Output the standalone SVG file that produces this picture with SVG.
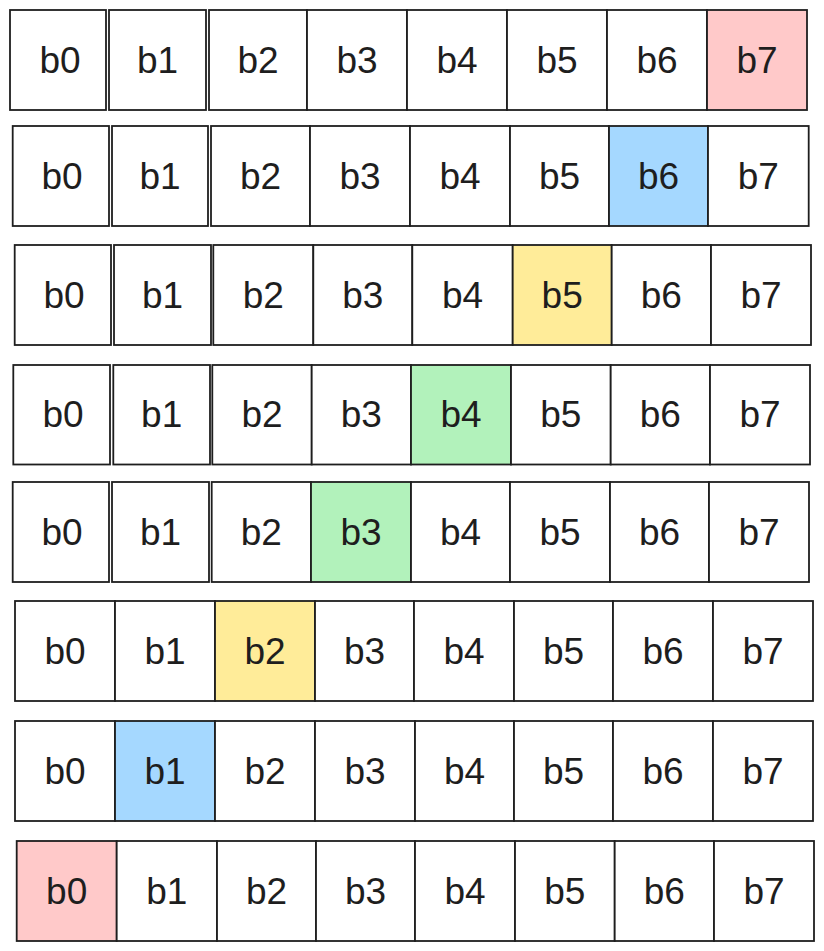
<svg xmlns="http://www.w3.org/2000/svg" width="824" height="951" viewBox="0 0 824 951">
<style>
.b{fill:#ffffff;stroke:#1e1e1e;stroke-width:1.8}
.pk{fill:#ffc9c9}.bl{fill:#a5d8ff}.yl{fill:#ffec99}.gr{fill:#b2f2bb}
text{font-family:"Liberation Sans",Arial,sans-serif;font-size:37px;fill:#1e1e1e;text-anchor:middle}
</style>
<rect width="824" height="951" fill="#ffffff"/>
<g id="row1">
<g id="r1b0"><rect class="b" x="10" y="10" width="96" height="100"/><text x="60" y="72.5">b0</text></g>
<g id="r1b1"><rect class="b" x="109" y="10" width="97" height="100"/><text x="157.5" y="72.5">b1</text></g>
<g id="r1b2"><rect class="b" x="209" y="10" width="98" height="100"/><text x="258" y="72.5">b2</text></g>
<g id="r1b3"><rect class="b" x="307" y="10" width="100" height="100"/><text x="357" y="72.5">b3</text></g>
<g id="r1b4"><rect class="b" x="407" y="10" width="100" height="100"/><text x="457" y="72.5">b4</text></g>
<g id="r1b5"><rect class="b" x="507" y="10" width="100" height="100"/><text x="557" y="72.5">b5</text></g>
<g id="r1b6"><rect class="b" x="607" y="10" width="100" height="100"/><text x="657" y="72.5">b6</text></g>
<g id="r1b7"><rect class="b pk" x="707" y="10" width="100" height="100"/><text x="757" y="72.5">b7</text></g>
</g>
<g id="row2">
<g id="r2b0"><rect class="b" x="12.7" y="126" width="96.3" height="100"/><text x="62" y="188.5">b0</text></g>
<g id="r2b1"><rect class="b" x="112" y="126" width="96" height="100"/><text x="160" y="188.5">b1</text></g>
<g id="r2b2"><rect class="b" x="211" y="126" width="99" height="100"/><text x="260.5" y="188.5">b2</text></g>
<g id="r2b3"><rect class="b" x="310" y="126" width="100" height="100"/><text x="360" y="188.5">b3</text></g>
<g id="r2b4"><rect class="b" x="410" y="126" width="100" height="100"/><text x="460" y="188.5">b4</text></g>
<g id="r2b5"><rect class="b" x="510" y="126" width="99" height="100"/><text x="559.5" y="188.5">b5</text></g>
<g id="r2b6"><rect class="b bl" x="609" y="126" width="99" height="100"/><text x="658.5" y="188.5">b6</text></g>
<g id="r2b7"><rect class="b" x="708" y="126" width="100.7" height="100"/><text x="758.3" y="188.5">b7</text></g>
</g>
<g id="row3">
<g id="r3b0"><rect class="b" x="14.7" y="245" width="96.3" height="100"/><text x="64" y="307.5">b0</text></g>
<g id="r3b1"><rect class="b" x="114" y="245" width="97" height="100"/><text x="162.5" y="307.5">b1</text></g>
<g id="r3b2"><rect class="b" x="213.3" y="245" width="100" height="100"/><text x="263.3" y="307.5">b2</text></g>
<g id="r3b3"><rect class="b" x="313.3" y="245" width="99" height="100"/><text x="362.8" y="307.5">b3</text></g>
<g id="r3b4"><rect class="b" x="412.3" y="245" width="100.4" height="100"/><text x="462.5" y="307.5">b4</text></g>
<g id="r3b5"><rect class="b yl" x="512.7" y="245" width="99" height="100"/><text x="562.2" y="307.5">b5</text></g>
<g id="r3b6"><rect class="b" x="611.7" y="245" width="99.3" height="100"/><text x="661.3" y="307.5">b6</text></g>
<g id="r3b7"><rect class="b" x="711" y="245" width="100" height="100"/><text x="761" y="307.5">b7</text></g>
</g>
<g id="row4">
<g id="r4b0"><rect class="b" x="13.3" y="365" width="96.7" height="99.5"/><text x="63" y="427">b0</text></g>
<g id="r4b1"><rect class="b" x="113.3" y="365" width="96.7" height="99.5"/><text x="161.7" y="427">b1</text></g>
<g id="r4b2"><rect class="b" x="212.3" y="365" width="99.4" height="99.5"/><text x="262" y="427">b2</text></g>
<g id="r4b3"><rect class="b" x="311.7" y="365" width="99.3" height="99.5"/><text x="361.3" y="427">b3</text></g>
<g id="r4b4"><rect class="b gr" x="411" y="365" width="100" height="99.5"/><text x="461" y="427">b4</text></g>
<g id="r4b5"><rect class="b" x="511" y="365" width="99.7" height="99.5"/><text x="560.8" y="427">b5</text></g>
<g id="r4b6"><rect class="b" x="610.7" y="365" width="99.3" height="99.5"/><text x="660.3" y="427">b6</text></g>
<g id="r4b7"><rect class="b" x="710" y="365" width="100" height="99.5"/><text x="760" y="427">b7</text></g>
</g>
<g id="row5">
<g id="r5b0"><rect class="b" x="12.7" y="482" width="96.3" height="100"/><text x="62" y="544.5">b0</text></g>
<g id="r5b1"><rect class="b" x="112" y="482" width="97" height="100"/><text x="160.5" y="544.5">b1</text></g>
<g id="r5b2"><rect class="b" x="211.7" y="482" width="99.3" height="100"/><text x="261.3" y="544.5">b2</text></g>
<g id="r5b3"><rect class="b gr" x="311" y="482" width="100" height="100"/><text x="361" y="544.5">b3</text></g>
<g id="r5b4"><rect class="b" x="411" y="482" width="99" height="100"/><text x="460.5" y="544.5">b4</text></g>
<g id="r5b5"><rect class="b" x="510" y="482" width="100" height="100"/><text x="560" y="544.5">b5</text></g>
<g id="r5b6"><rect class="b" x="610" y="482" width="99" height="100"/><text x="659.5" y="544.5">b6</text></g>
<g id="r5b7"><rect class="b" x="709" y="482" width="100" height="100"/><text x="759" y="544.5">b7</text></g>
</g>
<g id="row6">
<g id="r6b0"><rect class="b" x="15" y="601" width="100" height="100"/><text x="65" y="663.5">b0</text></g>
<g id="r6b1"><rect class="b" x="115" y="601" width="100" height="100"/><text x="165" y="663.5">b1</text></g>
<g id="r6b2"><rect class="b yl" x="215" y="601" width="100" height="100"/><text x="265" y="663.5">b2</text></g>
<g id="r6b3"><rect class="b" x="315" y="601" width="99" height="100"/><text x="364.5" y="663.5">b3</text></g>
<g id="r6b4"><rect class="b" x="414" y="601" width="100" height="100"/><text x="464" y="663.5">b4</text></g>
<g id="r6b5"><rect class="b" x="514" y="601" width="99" height="100"/><text x="563.5" y="663.5">b5</text></g>
<g id="r6b6"><rect class="b" x="613" y="601" width="100" height="100"/><text x="663" y="663.5">b6</text></g>
<g id="r6b7"><rect class="b" x="713" y="601" width="100" height="100"/><text x="763" y="663.5">b7</text></g>
</g>
<g id="row7">
<g id="r7b0"><rect class="b" x="15" y="721" width="100" height="100"/><text x="65" y="783.5">b0</text></g>
<g id="r7b1"><rect class="b bl" x="115" y="721" width="100" height="100"/><text x="165" y="783.5">b1</text></g>
<g id="r7b2"><rect class="b" x="215" y="721" width="100" height="100"/><text x="265" y="783.5">b2</text></g>
<g id="r7b3"><rect class="b" x="315" y="721" width="100" height="100"/><text x="365" y="783.5">b3</text></g>
<g id="r7b4"><rect class="b" x="415" y="721" width="99" height="100"/><text x="464.5" y="783.5">b4</text></g>
<g id="r7b5"><rect class="b" x="514" y="721" width="99" height="100"/><text x="563.5" y="783.5">b5</text></g>
<g id="r7b6"><rect class="b" x="613" y="721" width="100" height="100"/><text x="663" y="783.5">b6</text></g>
<g id="r7b7"><rect class="b" x="713" y="721" width="100" height="100"/><text x="763" y="783.5">b7</text></g>
</g>
<g id="row8">
<g id="r8b0"><rect class="b pk" x="16.7" y="841" width="100" height="100"/><text x="66.7" y="903.5">b0</text></g>
<g id="r8b1"><rect class="b" x="116.7" y="841" width="100.3" height="100"/><text x="166.8" y="903.5">b1</text></g>
<g id="r8b2"><rect class="b" x="217" y="841" width="99" height="100"/><text x="266.5" y="903.5">b2</text></g>
<g id="r8b3"><rect class="b" x="316" y="841" width="99" height="100"/><text x="365.5" y="903.5">b3</text></g>
<g id="r8b4"><rect class="b" x="415" y="841" width="100" height="100"/><text x="465" y="903.5">b4</text></g>
<g id="r8b5"><rect class="b" x="515" y="841" width="99.7" height="100"/><text x="564.8" y="903.5">b5</text></g>
<g id="r8b6"><rect class="b" x="614.7" y="841" width="99.3" height="100"/><text x="664.3" y="903.5">b6</text></g>
<g id="r8b7"><rect class="b" x="714" y="841" width="100" height="100"/><text x="764" y="903.5">b7</text></g>
</g>
<g id="connectors"/>
</svg>
